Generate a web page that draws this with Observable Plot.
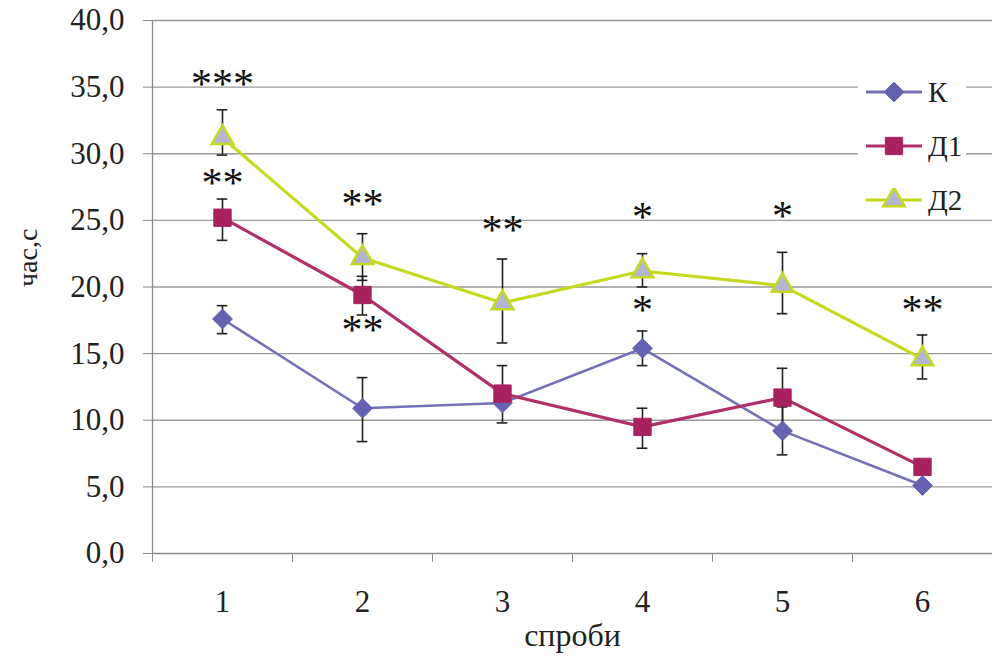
<!DOCTYPE html>
<html>
<head>
<meta charset="utf-8">
<script src="https://cdn.jsdelivr.net/npm/d3@7"></script>
<script src="https://cdn.jsdelivr.net/npm/@observablehq/plot@0.6"></script>
<style>
  html, body { margin: 0; padding: 0; background: #fff; }
  #wrap { position: relative; width: 992px; height: 666px; }
  #legend { position: absolute; left: 858px; top: 66px; width: 108px; height: 150px; background: #fff;
            font-family: "Liberation Serif", serif; font-size: 29px; color: #222; }
  .item { position: absolute; left: 8px; height: 30px; display: flex; align-items: center; }
  .item svg { margin-right: 6px; }
</style>
</head>
<body>
<div id="wrap"><div id="legend"></div></div>
<script>
const trials = [1, 2, 3, 4, 5, 6];
const seriesNames = ["К", "Д1", "Д2"];
const kMean  = [17.6, 10.9, 11.3, 15.4, 9.2, 5.1];
const kLow   = [16.5, 8.4, null, 14.1, 7.4, null];
const kHigh  = [18.6, 13.2, null, 16.7, 11.0, null];
const d1Mean = [25.2, 19.4, 12.0, 9.5, 11.7, 6.5];
const d1Low  = [23.5, 17.9, 9.8, 7.9, 9.5, null];
const d1High = [26.6, 20.8, 14.1, 10.9, 13.9, null];
const d2Mean = [31.2, 22.2, 18.8, 21.2, 20.1, 14.6];
const d2Low  = [29.9, 20.5, 15.8, 20.0, 18.0, 13.1];
const d2High = [33.3, 24.0, 22.1, 22.5, 22.6, 16.4];
const yTicks = [0, 5, 10, 15, 20, 25, 30, 35, 40];
const annTrial = [1, 1, 2, 2, 3, 4, 4, 5, 6];
const annY     = [35.5, 28.1, 26.5, 17.0, 24.5, 25.5, 18.5, 25.6, 18.5];
const annText  = ["***", "**", "**", "**", "**", "*", "*", "*", "**"];

const lineColors = ["#7471B8", "#B0306A", "#C5D920"];
const markFill   = ["#6662B2", "#A82260", "#B3B5D3"];
const markStroke = ["#6662B2", "#A82260", "#C5D920"];
const symbols    = ["diamond2", "square", "triangle"];
const symSize    = [250, 300, 200];

const means = [kMean, d1Mean, d2Mean];
const lows = [kLow, d1Low, d2Low];
const highs = [kHigh, d1High, d2High];

const rows = [];
seriesNames.forEach((s, si) => trials.forEach((t, i) => rows.push({
  series: s, si, trial: t, value: means[si][i], low: lows[si][i], high: highs[si][i]
})));
const errRows = rows.filter(d => d.low != null);
const ann = annTrial.map((t, i) => ({trial: t, y: annY[i], text: annText[i]}));
const cap = 0.038;

const font = "Liberation Serif";
const marks = [
  Plot.gridY(yTicks.filter(d => d > 0), {stroke: "#9a9a9a", strokeOpacity: 1, strokeWidth: 1.3}),
  Plot.ruleX([0.5], {stroke: "#8a8a8a", strokeWidth: 1.3}),
  Plot.ruleY([0], {stroke: "#8a8a8a", strokeWidth: 1.3}),
  Plot.axisY({ticks: yTicks, tickFormat: d => d.toFixed(1).replace(".", ","), tickSize: 9, tickPadding: 19,
              fontSize: 31, fontFamily: font, fill: "#222", stroke: "#8a8a8a", label: null}),
  Plot.axisX({ticks: [0.5, 1.5, 2.5, 3.5, 4.5, 5.5, 6.5], tickSize: 9, tickFormat: () => "", stroke: "#8a8a8a", label: null}),
  Plot.axisX({ticks: trials, tickSize: 0, tickPadding: 36, tickFormat: d => String(d), fontSize: 31, fontFamily: font, fill: "#222", label: null}),
  Plot.text(["спроби"], {frameAnchor: "bottom", dy: 92, fontSize: 32, fontFamily: font, fill: "#222"}),
  Plot.text(["час,с"], {frameAnchor: "left", dx: -124, rotate: -90, fontSize: 28, fontFamily: font, fill: "#222"}),
  Plot.ruleX(errRows, {x: "trial", y1: "low", y2: "high", stroke: "#222", strokeWidth: 1.6}),
  Plot.ruleY(errRows, {y: "low", x1: d => d.trial - cap, x2: d => d.trial + cap, stroke: "#222", strokeWidth: 1.6}),
  Plot.ruleY(errRows, {y: "high", x1: d => d.trial - cap, x2: d => d.trial + cap, stroke: "#222", strokeWidth: 1.6}),
  ...seriesNames.map((s, si) => Plot.line(rows.filter(d => d.si === si), {x: "trial", y: "value", stroke: lineColors[si], strokeWidth: si === 0 ? 2.6 : 3.2})),
  ...seriesNames.map((s, si) => Plot.dot(rows.filter(d => d.si === si), {x: "trial", y: "value", symbol: symbols[si], r: Math.sqrt(symSize[si] / Math.PI),
     fill: markFill[si], stroke: markStroke[si], strokeWidth: si === 2 ? 2.5 : 1})),
  Plot.text(ann, {x: "trial", y: "y", text: "text", fontSize: 42, fontFamily: font, fill: "#111", letterSpacing: "4px", dy: 4})
];

const chart = Plot.plot({
  width: 992, height: 666,
  marginLeft: 152, marginRight: 0, marginTop: 20, marginBottom: 113,
  x: {type: "linear", domain: [0.5, 6.5], axis: null},
  y: {domain: [0, 40], axis: null},
  style: {fontFamily: font, background: "#fff", overflow: "visible"},
  marks
});
document.getElementById("wrap").prepend(chart);

// legend
const leg = document.getElementById("legend");
seriesNames.forEach((s, si) => {
  const item = document.createElement("div");
  item.className = "item";
  item.style.top = (11 + si * 54) + "px";
  const svg = d3.create("svg").attr("width", 56).attr("height", 24);
  svg.append("line").attr("x1", 0).attr("x2", 56).attr("y1", 12).attr("y2", 12)
     .attr("stroke", lineColors[si]).attr("stroke-width", 3);
  const sym = si === 0 ? d3.symbolDiamond2 : si === 1 ? d3.symbolSquare : d3.symbolTriangle;
  svg.append("path").attr("d", d3.symbol(sym, symSize[si])()).attr("transform", "translate(28,12)")
     .attr("fill", markFill[si]).attr("stroke", markStroke[si]).attr("stroke-width", si === 2 ? 2.5 : 1);
  item.appendChild(svg.node());
  const lab = document.createElement("span");
  lab.textContent = s;
  item.appendChild(lab);
  leg.appendChild(item);
});
</script>
</body>
</html>
